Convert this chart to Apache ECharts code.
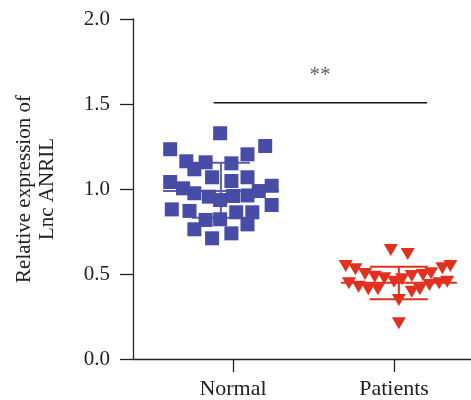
<!DOCTYPE html>
<html>
<head>
<meta charset="utf-8">
<script src="https://cdn.jsdelivr.net/npm/echarts@6/dist/echarts.min.js"></script>
<style>
  html, body { margin: 0; padding: 0; background: #fff; }
  #chart { width: 471px; height: 400px; }
</style>
</head>
<body>
<div id="chart"></div>
<script>
// 组别
var groups = ['Normal', 'Patients'];

// Normal 组：横向抖动（相对类别位置）与表达量
var normalJitter = [-0.08, -0.39, 0.20, -0.29, -0.17, 0.09, -0.24, -0.01, -0.13, -0.01, 0.09,
    -0.39, 0.24, -0.31, -0.24, -0.15, -0.08, 0.00, 0.09, 0.16, -0.38, -0.27, 0.24, 0.02,
    0.12, -0.17, -0.08, 0.09, -0.24, -0.01, -0.13];
var normalValues = [1.328, 1.234, 1.253, 1.163, 1.157, 1.204, 1.116, 1.151, 1.069, 1.047, 1.069,
    1.041, 1.019, 1.004, 0.975, 0.955, 0.935, 0.959, 0.962, 0.988, 0.880, 0.871, 0.906, 0.863,
    0.863, 0.818, 0.822, 0.792, 0.763, 0.739, 0.710];

// Patients 组
var patientJitter = [-0.02, 0.085, -0.30, -0.24, -0.18, -0.12, -0.06, 0.00, 0.05, -0.28, -0.22,
    -0.16, -0.10, 0.03, 0.35, 0.30, 0.23, 0.18, 0.11, 0.33, 0.28, 0.22, 0.16, 0.11, 0.03];
var patientValues = [0.641, 0.618, 0.547, 0.528, 0.500, 0.484, 0.475, 0.455, 0.469, 0.445, 0.425,
    0.410, 0.410, 0.347, 0.547, 0.534, 0.504, 0.494, 0.488, 0.455, 0.445, 0.435, 0.410, 0.396, 0.210];

// 均值 ± SD（中心位置, 均值, 上限, 下限）
var errorBars = [
    [0.925, 0.988, 1.155, 0.831],
    [2.03, 0.449, 0.543, 0.351]
];

// 显著性标注
var sigLine = [[0.88, 1.508], [2.205, 1.508]];
var sigText = '**';
var sigPos = [1.54, 1.665];

var yTicks = [0, 0.5, 1.0, 1.5, 2.0];

var blue = '#474ca6';
var red = '#e2301f';
var font = 'Liberation Serif';

function pts (jitter, values, center) {
    var out = [];
    for (var i = 0; i < values.length; i++) {
        out.push([center + jitter[i], values[i]]);
    }
    return out;
}

var myChart = echarts.init(document.getElementById('chart'));

var option = {
    backgroundColor: '#fff',
    animation: false,
    grid: { left: 133, right: 0, top: 19, bottom: 41 },
    xAxis: {
        type: 'value',
        min: 0.379,
        max: 2.478,
        splitLine: { show: false },
        axisLine: { lineStyle: { color: '#222', width: 1.3 } },
        axisTick: { customValues: [1, 2], length: 13, lineStyle: { color: '#222', width: 1.3 } },
        axisLabel: {
            customValues: [1, 2],
            formatter: function (v) { return groups[Math.round(v) - 1]; },
            fontFamily: font, fontSize: 22, color: '#222', margin: 19
        }
    },
    yAxis: {
        type: 'value',
        min: yTicks[0],
        max: yTicks[yTicks.length - 1],
        interval: 0.5,
        splitLine: { show: false },
        axisLine: { show: true, lineStyle: { color: '#222', width: 1.3 } },
        axisTick: { show: true, length: 13, lineStyle: { color: '#222', width: 1.3 } },
        axisLabel: {
            formatter: function (v) { return v.toFixed(1); },
            fontFamily: font, fontSize: 21, color: '#222', margin: 23
        },
        name: 'Relative expression of\nLnc ANRIL',
        nameLocation: 'middle',
        nameRotate: 90,
        nameGap: 74,
        nameTextStyle: { fontFamily: font, fontSize: 21, color: '#222', lineHeight: 23 }
    },
    series: [
        {
            // 误差线
            type: 'custom',
            z: 1,
            silent: true,
            data: errorBars,
            encode: { x: 0, y: 1 },
            renderItem: function (params, api) {
                var c = api.value(0);
                var m = api.coord([c, api.value(1)]);
                var hi = api.coord([c, api.value(2)]);
                var lo = api.coord([c, api.value(3)]);
                var half = api.size([0.36, 0])[0];
                var cap = api.size([0.18, 0])[0];
                var col = params.dataIndex === 0 ? '#5a5eb0' : red;
                var st = { stroke: col, lineWidth: 2 };
                return {
                    type: 'group',
                    children: [
                        { type: 'line', shape: { x1: m[0] - half, y1: m[1], x2: m[0] + half, y2: m[1] }, style: st },
                        { type: 'line', shape: { x1: hi[0] - cap, y1: hi[1], x2: hi[0] + cap, y2: hi[1] }, style: st },
                        { type: 'line', shape: { x1: lo[0] - cap, y1: lo[1], x2: lo[0] + cap, y2: lo[1] }, style: st },
                        { type: 'line', shape: { x1: hi[0], y1: hi[1], x2: lo[0], y2: lo[1] }, style: st }
                    ]
                };
            }
        },
        {
            name: groups[0],
            type: 'scatter',
            z: 3,
            symbol: 'rect',
            symbolSize: 14,
            itemStyle: { color: blue, opacity: 1 },
            data: pts(normalJitter, normalValues, 1)
        },
        {
            name: groups[1],
            type: 'scatter',
            z: 3,
            symbol: 'triangle',
            symbolRotate: 180,
            symbolSize: [14, 12],
            itemStyle: { color: red, opacity: 1 },
            data: pts(patientJitter, patientValues, 2)
        },
        {
            // 显著性横线
            type: 'line',
            silent: true,
            symbol: 'none',
            lineStyle: { color: '#111', width: 1.5 },
            data: sigLine
        },
        {
            type: 'scatter',
            silent: true,
            symbolSize: 0,
            data: [sigPos],
            label: {
                show: true,
                position: 'inside',
                formatter: sigText,
                fontFamily: font,
                fontSize: 21,
                color: '#333'
            }
        }
    ]
};

myChart.setOption(option);
</script>
</body>
</html>
